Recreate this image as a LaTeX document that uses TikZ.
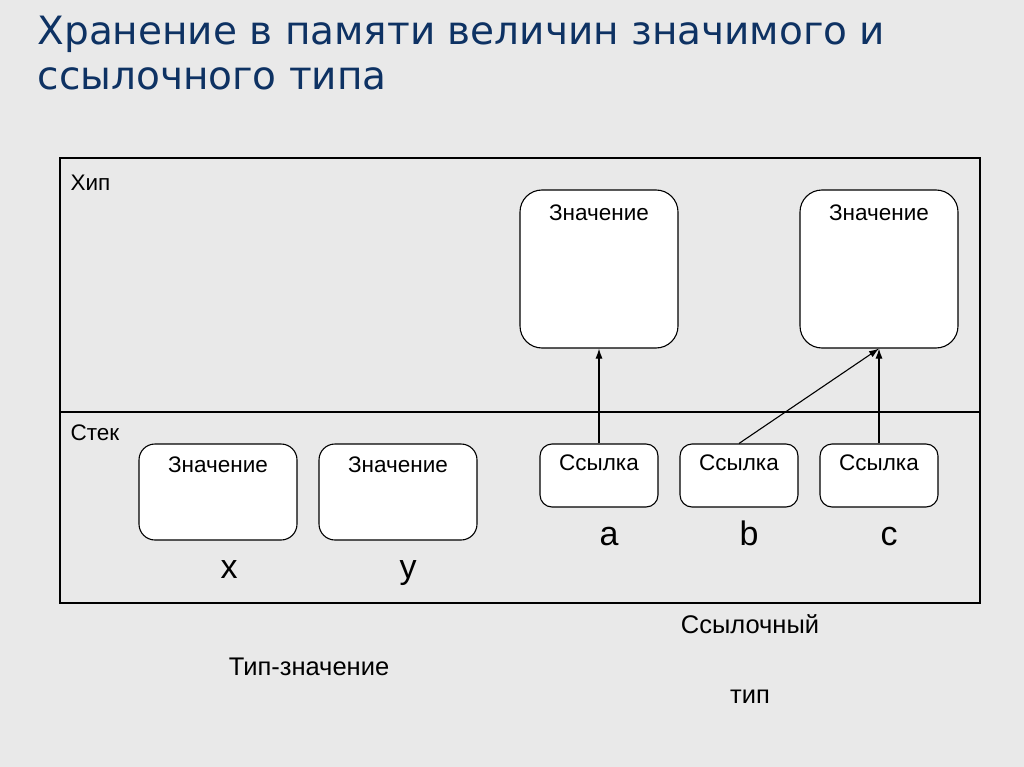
\documentclass[tikz,border=0pt]{standalone}
\usepackage{fontspec}
\setmainfont{Liberation Sans}
\newfontfamily\titlefont{DejaVu Sans}
\usetikzlibrary{arrows.meta}
\definecolor{bg}{HTML}{E9E9E9}
\definecolor{titleblue}{HTML}{0E3263}

\begin{document}
\begin{tikzpicture}[x=1pt,y=-1pt,line width=1.1pt,
  box/.style={draw, fill=white, rounded corners=22pt, inner sep=0pt},
  txt/.style={font=\fontsize{22.5}{26}\selectfont, inner sep=0pt},
  kind/.style={font=\fontsize{25.5}{29}\selectfont, inner sep=0pt},
  lbl/.style={font=\fontsize{34}{38}\selectfont, inner sep=0pt, anchor=base},
  ref/.style={-{Latex[length=10pt,width=7pt]}}]
\fill[bg] (0,0) rectangle (1024,767);
\useasboundingbox (0,0) rectangle (1024,767);

% title
\node[anchor=west, inner sep=0pt, text=titleblue, font=\titlefont\fontsize{39}{45}\selectfont] (T1) at (37,34) {Хранение в памяти величин значимого и};
\node[anchor=west, inner sep=0pt, text=titleblue, font=\titlefont\fontsize{39}{45}\selectfont] (T2) at (37,79) {ссылочного типа};

% heap and stack
\draw (60,158) rectangle (980,603);
\draw (60,412) -- (980,412);
\node[txt, anchor=west] (H) at (70,183) {Хип};
\node[txt, anchor=west] (S) at (70,433) {Стек};

% heap values
\node[box, minimum width=158pt, minimum height=158pt,
  label={[txt, anchor=north, yshift=-15pt]north:Значение}] (V1) at (599,269) {};
\node[box, minimum width=158pt, minimum height=158pt,
  label={[txt, anchor=north, yshift=-15pt]north:Значение}] (V2) at (879,269) {};

% value types on the stack
\node[box, rounded corners=16pt, minimum width=158pt, minimum height=96pt,
  label={[txt, anchor=north, yshift=-13pt]north:Значение}] (X) at (218,492) {};
\node[box, rounded corners=16pt, minimum width=158pt, minimum height=96pt,
  label={[txt, anchor=north, yshift=-13pt]north:Значение}] (Y) at (398,492) {};

% references on the stack
\node[box, rounded corners=12pt, minimum width=118pt, minimum height=63pt,
  label={[txt, anchor=north, yshift=-11pt]north:Ссылка}] (A) at (599,475.5) {};
\node[box, rounded corners=12pt, minimum width=118pt, minimum height=63pt,
  label={[txt, anchor=north, yshift=-11pt]north:Ссылка}] (B) at (739,475.5) {};
\node[box, rounded corners=12pt, minimum width=118pt, minimum height=63pt,
  label={[txt, anchor=north, yshift=-11pt]north:Ссылка}] (C) at (879,475.5) {};

\draw[ref] (A) -- (V1);
\draw[ref] (B.north) -- (V2.south);
\draw[ref] (C) -- (V2);

% names
\node[lbl] (a) at (609,545) {a};
\node[lbl] (b) at (749,545) {b};
\node[lbl] (c) at (889,545) {c};
\node[lbl] (x) at (229,578) {x};
\node[lbl] (y) at (408,578) {y};

\node[kind] (R1) at (750,624) {Ссылочный};
\node[kind] (R2) at (750,697) {тип};
\node[kind] (VT) at (309,667) {Тип-значение};
\end{tikzpicture}
\end{document}
